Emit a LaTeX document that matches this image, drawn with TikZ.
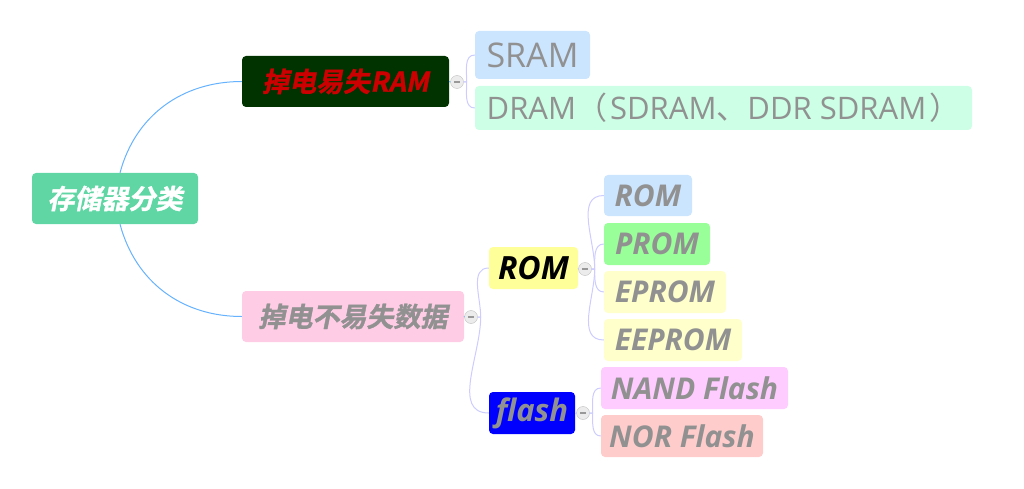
\documentclass[tikz,border=0pt]{standalone}
\usepackage{fontspec}
\setmainfont{Open Sans}
\newfontfamily\cjk{Noto Sans CJK SC}
\newfontfamily\cjkbi{Noto Sans CJK SC Bold}[FakeSlant=0.2, FakeBold=1.2]
\usetikzlibrary{positioning}
\definecolor{rootgreen}{RGB}{95,214,164}
\definecolor{ramgreen}{RGB}{0,51,0}
\definecolor{ramred}{RGB}{204,0,0}
\definecolor{leafgray}{RGB}{145,145,145}
\definecolor{skyblue}{RGB}{204,229,255}
\definecolor{mint}{RGB}{204,255,229}
\definecolor{rosepink}{RGB}{255,204,229}
\definecolor{lemon}{RGB}{255,255,153}
\definecolor{lightlime}{RGB}{153,255,153}
\definecolor{cream}{RGB}{255,255,204}
\definecolor{flashblue}{RGB}{0,0,255}
\definecolor{lilac}{RGB}{255,204,255}
\definecolor{salmon}{RGB}{255,204,204}
\definecolor{linkblue}{RGB}{102,178,255}
\definecolor{linklav}{RGB}{204,204,255}
\newcommand{\cjktxt}[1]{{\cjkbi\fontsize{27}{30}\selectfont #1}}
\newcommand{\bitxt}[2]{{\bfseries\itshape\fontsize{#1}{#1}\selectfont #2}}
\tikzset{
  topic/.style={rounded corners=4pt, inner sep=0pt, text=leafgray},
  rootline/.style={draw=linkblue, line width=1pt},
  subline/.style={draw=linklav, line width=1pt},
  fold/.style={circle, draw=gray!50, fill=gray!15, minimum size=13pt, inner sep=0pt,
    path picture={\draw[gray!80, line width=1.5pt] (-3pt,0) -- (3pt,0);}},
}
\begin{document}
\begin{tikzpicture}[x=1pt, y=-1pt]
  \useasboundingbox (0,0) rectangle (1024,489);
  % topics
  \node[topic, fill=rootgreen, text=white, minimum width=166, minimum height=51] (root) at (115,198.5) {\cjktxt{存储器分类}};
  \node[topic, fill=ramgreen, text=ramred, minimum width=207, minimum height=51] (ram) at (345.5,81.5) {\cjktxt{掉电易失RAM}};
  \node[topic, fill=rosepink, minimum width=222, minimum height=51] (nvm) at (353,316.5) {\cjktxt{掉电不易失数据}};
  \node[topic, fill=skyblue, minimum width=115, minimum height=48] (sram) at (532.5,55) {\fontsize{34}{36}\selectfont SRAM};
  \node[topic, fill=mint, minimum width=497, minimum height=44] (dram) at (723.5,108)
    {\fontsize{31}{33}\selectfont DRAM{\cjk （}\hspace{3pt}SDRAM{\cjk 、}DDR SDRAM\hspace{3pt}{\cjk ）}};
  \node[topic, fill=lemon, text=black, minimum width=89, minimum height=42] (rom) at (533.5,268) {\bitxt{32}{ROM}};
  \node[topic, fill=flashblue, minimum width=86, minimum height=42] (flash) at (532,413) {\bitxt{31}{flash}};
  \node[topic, fill=skyblue, minimum width=88, minimum height=41] (romleaf) at (648,195.5) {\bitxt{30}{ROM}};
  \node[topic, fill=lightlime, minimum width=106, minimum height=42] (prom) at (657,244) {\bitxt{30}{PROM}};
  \node[topic, fill=cream, minimum width=122, minimum height=42] (eprom) at (665,292) {\bitxt{30}{EPROM}};
  \node[topic, fill=cream, minimum width=138, minimum height=42] (eeprom) at (673,340) {\bitxt{30}{EEPROM}};
  \node[topic, fill=lilac, minimum width=187, minimum height=42] (nand) at (694.5,388) {\bitxt{30}{NAND Flash}};
  \node[topic, fill=salmon, minimum width=162, minimum height=42] (nor) at (682,436) {\bitxt{30}{NOR Flash}};
  % collapse buttons
  \node[fold] (ramfold) at (457,82) {};
  \node[fold] (nvmfold) at (471,317) {};
  \node[fold] (romfold) at (585,269) {};
  \node[fold] (flashfold) at (583,413) {};
  % links from the root
  \draw[rootline] ([xshift=5]root.north) to[out=75, in=180] (ram.west);
  \draw[rootline] ([xshift=5]root.south) to[out=-75, in=180] (nvm.west);
  \draw[rootline] (ram.east) -- (ramfold.west);
  \draw[rootline] (nvm.east) -- (nvmfold.west);
  \draw[subline] (rom.east) -- (romfold.west);
  \draw[subline] (flash.east) -- (flashfold.west);
  % branches
  \draw[subline] (ramfold.east) -- ++(3,0) to[out=90, in=180] (sram.west);
  \draw[subline] (ramfold.east) -- ++(3,0) to[out=-90, in=180] (dram.west);
  \draw[subline] (nvmfold.east) -- ++(3,0) to[out=90, in=180] (rom.west);
  \draw[subline] (nvmfold.east) -- ++(3,0) to[out=-90, in=180] (flash.west);
  \foreach \leaf/\dir in {romleaf/90, prom/90, eprom/-90, eeprom/-90}
    \draw[subline] (romfold.east) -- ++(3,0) to[out=\dir, in=180] (\leaf.west);
  \draw[subline] (flashfold.east) -- ++(3,0) to[out=90, in=180] (nand.west);
  \draw[subline] (flashfold.east) -- ++(3,0) to[out=-90, in=180] (nor.west);
\end{tikzpicture}
\end{document}
